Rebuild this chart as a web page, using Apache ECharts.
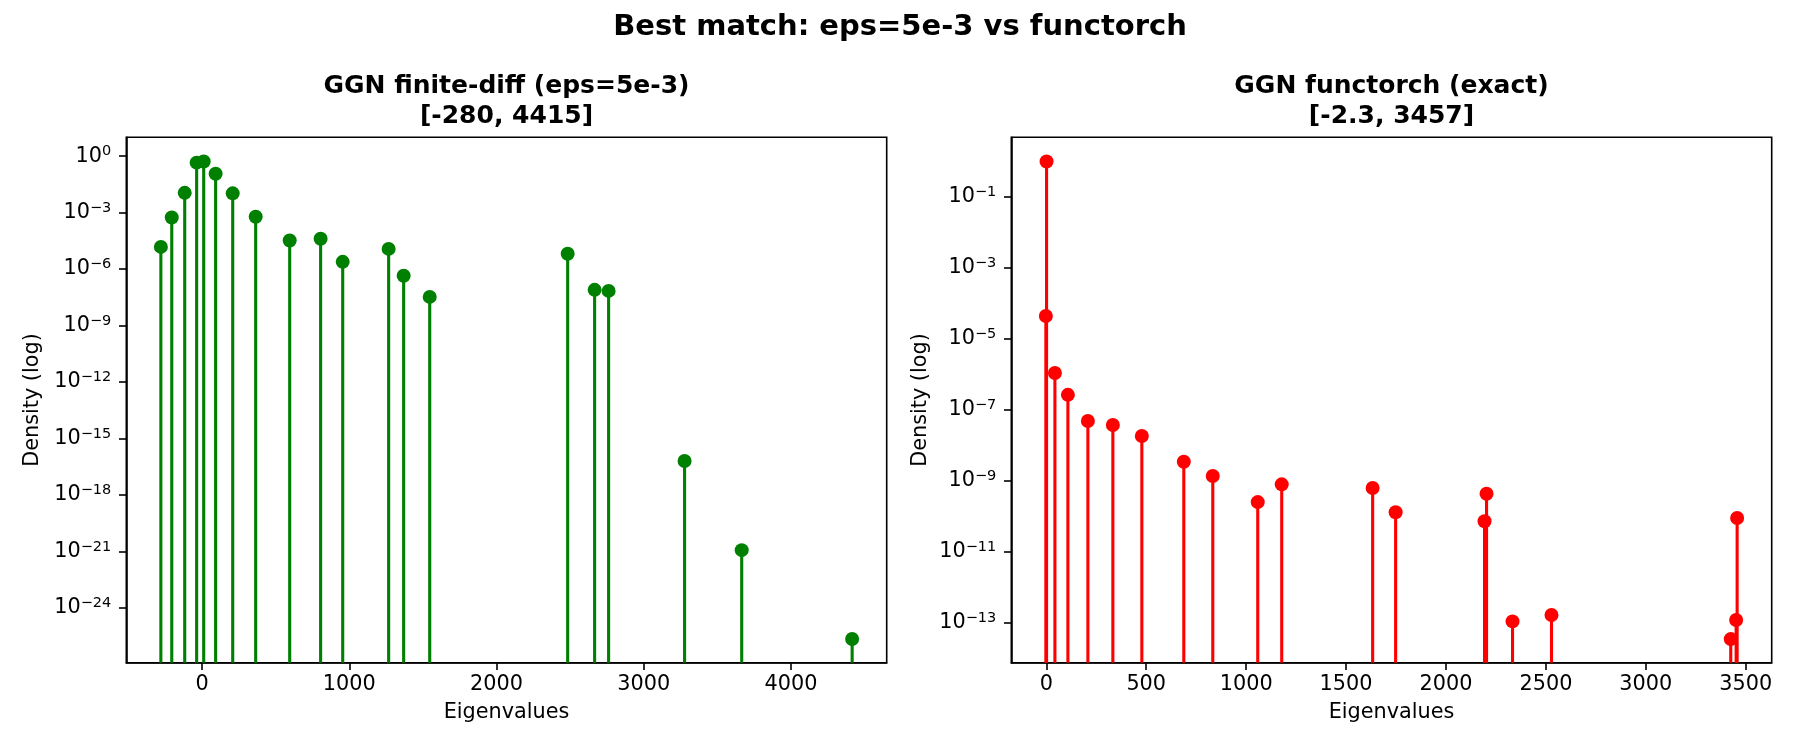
<!DOCTYPE html>
<html>
<head>
<meta charset="utf-8">
<script src="https://cdn.jsdelivr.net/npm/echarts@6/dist/echarts.min.js"></script>
<style>
  html, body { margin: 0; padding: 0; background: #fff; }
  #chart { width: 1800px; height: 750px; }
</style>
</head>
<body>
<div id="chart"></div>
<script>
// Left panel: finite-difference GGN spectrum
const fdEigenvalues = [-280, -206, -118, -37, 11, 92, 208, 364, 595, 805, 955, 1267, 1369, 1546, 2483, 2666, 2761, 3277, 3665, 4415];
const fdDensity = [1.5e-5, 5.5e-4, 1.12e-2, 0.45, 0.52, 0.115, 1.05e-2, 6.0e-4, 3.3e-5, 4.1e-5, 2.4e-6, 1.17e-5, 4.4e-7, 3.3e-8, 6.5e-6, 7.8e-8, 6.9e-8, 6.3e-17, 1.15e-21, 2.2e-26];

// Right panel: functorch exact GGN spectrum
const ftEigenvalues = [-2.3, 1.2, 43, 108, 208, 333, 478, 688, 833, 1058, 1178, 1633, 1748, 2193, 2203, 2333, 2528, 3425, 3452, 3457];
const ftDensity = [4.3e-5, 0.955, 1.07e-6, 2.6e-7, 4.8e-8, 3.7e-8, 1.8e-8, 3.4e-9, 1.35e-9, 2.5e-10, 7.9e-10, 6.2e-10, 1.3e-10, 7.2e-11, 4.3e-10, 1.1e-13, 1.66e-13, 3.5e-14, 1.2e-13, 8.9e-11];

// tick labels
const fdXTicks = [0, 1000, 2000, 3000, 4000];
const fdYTicks = [1e-24, 1e-21, 1e-18, 1e-15, 1e-12, 1e-9, 1e-6, 1e-3, 1];
const ftXTicks = [0, 500, 1000, 1500, 2000, 2500, 3000, 3500];
const ftYTicks = [1e-13, 1e-11, 1e-9, 1e-7, 1e-5, 1e-3, 1e-1];

const suptitle = 'Best match: eps=5e-3 vs functorch';
const fdTitle = 'GGN finite-diff (eps=5e-3)\n[-280, 4415]';
const ftTitle = 'GGN functorch (exact)\n[-2.3, 3457]';

const FONT = 'DejaVu Sans';
const fdYMin = Math.pow(10, -26.92), fdYMax = Math.pow(10, 1.0);
const ftYMin = Math.pow(10, -14.12), ftYMax = Math.pow(10, 0.66);

const chart = echarts.init(document.getElementById('chart'));

function pow10Label(v) {
    const e = Math.round(Math.log10(v));
    const sup = e === 0 ? '0' : '\u2212' + (-e);
    return '{b|10}{s|' + sup + '}';
}

const tickRich = {
    b: { fontFamily: FONT, fontSize: 20.8, color: '#000' },
    s: { fontFamily: FONT, fontSize: 14.5, color: '#000', padding: [0, 0, 9, 0] }
};

function xAxisCfg(gridIndex, min, max, ticks) {
    return {
        type: 'value', gridIndex, min, max,
        name: 'Eigenvalues', nameLocation: 'middle', nameGap: 39,
        nameTextStyle: { fontFamily: FONT, fontSize: 20.8, color: '#000' },
        axisLine: { show: true, onZero: false, lineStyle: { color: '#000', width: 1.6 } },
        axisTick: { show: true, customValues: ticks, length: 7.3, lineStyle: { color: '#000', width: 1.6 } },
        axisLabel: { customValues: ticks, margin: 11, fontFamily: FONT, fontSize: 20.8, color: '#000',
            formatter: v => String(v) },
        splitLine: { show: false }
    };
}

function yAxisCfg(gridIndex, min, max, ticks, nameGap) {
    return {
        type: 'log', logBase: 10, gridIndex, min, max,
        name: 'Density (log)', nameLocation: 'middle', nameGap,
        nameTextStyle: { fontFamily: FONT, fontSize: 20.8, color: '#000' },
        axisLine: { show: true, onZero: false, lineStyle: { color: '#000', width: 1.6 } },
        axisTick: { show: true, customValues: ticks, length: 7.3, lineStyle: { color: '#000', width: 1.6 } },
        axisLabel: { customValues: ticks, margin: 15, formatter: pow10Label, rich: tickRich },
        splitLine: { show: false },
        minorTick: { show: false }
    };
}

function stemSeries(idx, xs, ys, yMin, color) {
    return {
        type: 'custom', xAxisIndex: idx, yAxisIndex: idx,
        data: xs.map((x, i) => [x, ys[i]]),
        renderItem: (params, api) => {
            const top = api.coord([api.value(0), api.value(1)]);
            const base = api.coord([api.value(0), yMin]);
            return {
                type: 'line',
                shape: { x1: top[0], y1: top[1], x2: top[0], y2: base[1] },
                style: { stroke: color, lineWidth: 3.1 }
            };
        },
        z: 2, silent: true
    };
}

function markerSeries(idx, xs, ys, color) {
    return {
        type: 'scatter', xAxisIndex: idx, yAxisIndex: idx,
        data: xs.map((x, i) => [x, ys[i]]),
        symbol: 'circle', symbolSize: 14,
        itemStyle: { color, opacity: 1 },
        z: 3, silent: true
    };
}

const titleStyle = { fontFamily: FONT, fontSize: 25, fontWeight: 'bold', color: '#000', lineHeight: 30 };
const supStyle = { fontFamily: FONT, fontSize: 29, fontWeight: 'bold', color: '#000', lineHeight: 34 };

chart.setOption({
    animation: false,
    backgroundColor: '#fff',
    title: [
        { text: suptitle, left: 900, top: 10, textAlign: 'center', padding: 0, textStyle: supStyle },
        { text: fdTitle, left: 506.5, top: 71.5, textAlign: 'center', padding: 0, textStyle: titleStyle },
        { text: ftTitle, left: 1391.5, top: 71.5, textAlign: 'center', padding: 0, textStyle: titleStyle }
    ],
    grid: [
        { left: 126.3, top: 137.3, width: 760.4, height: 525.4, show: true, borderColor: '#000', borderWidth: 1.6, containLabel: false },
        { left: 1011.3, top: 137.3, width: 760.4, height: 525.4, show: true, borderColor: '#000', borderWidth: 1.6, containLabel: false }
    ],
    xAxis: [
        xAxisCfg(0, -514.75, 4649.75, fdXTicks),
        xAxisCfg(1, -175.27, 3629.97, ftXTicks)
    ],
    yAxis: [
        yAxisCfg(0, fdYMin, fdYMax, fdYTicks, 83),
        yAxisCfg(1, ftYMin, ftYMax, ftYTicks, 80)
    ],
    series: [
        stemSeries(0, fdEigenvalues, fdDensity, fdYMin, '#008000'),
        markerSeries(0, fdEigenvalues, fdDensity, '#008000'),
        stemSeries(1, ftEigenvalues, ftDensity, ftYMin, '#ff0000'),
        markerSeries(1, ftEigenvalues, ftDensity, '#ff0000')
    ]
});

window.addEventListener('resize', () => chart.resize());
</script>
</body>
</html>
